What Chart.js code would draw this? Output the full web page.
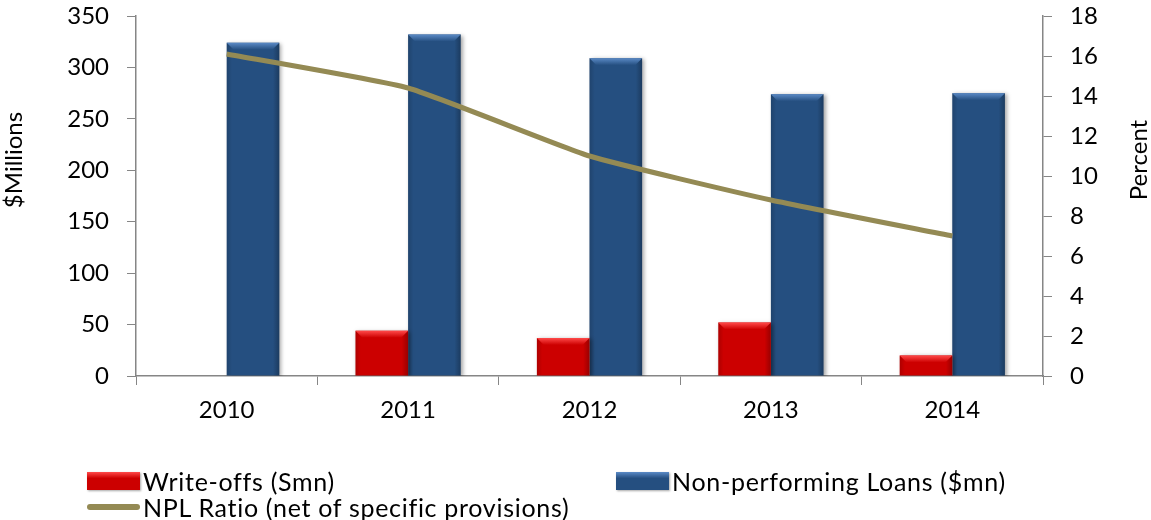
<!DOCTYPE html>
<html>
<head>
<meta charset="utf-8">
<script src="https://cdn.jsdelivr.net/npm/chart.js@4.4.0/dist/chart.umd.min.js"></script>
<style>
  html, body { margin: 0; padding: 0; background: #fff; }
  #wrap { position: relative; width: 1151px; height: 520px; overflow: hidden; }
  #chart { position: absolute; left: 0; top: 0; }
  #legend { position: absolute; left: 87px; top: 0; font-family: Lato, sans-serif; font-size: 25px; letter-spacing: 0.7px; color: #000; }
  .item { position: absolute; height: 26px; white-space: nowrap; display: flex; align-items: center; }
  .swatch { width: 53px; height: 18px; flex: none; }
  .line-swatch { width: 53px; height: 6px; border-radius: 3px; flex: none; }
  .label { display: inline-block; margin-left: 3px; }
</style>
</head>
<body>
<div id="wrap">
  <canvas id="chart" width="1151" height="520"></canvas>
  <div id="legend"></div>
</div>
<script>
// Data
const years = ['2010', '2011', '2012', '2013', '2014'];
const writeOffs = [0, 44, 37, 52, 20];
const nplLoans = [324, 332, 309, 274, 275];
const nplRatio = [16.1, 14.4, 11.0, 8.8, 7.0];

const leftTicks = { min: 0, max: 350, step: 50 };
const rightTicks = { min: 0, max: 18, step: 2 };

const FONT = 'Lato, sans-serif';
const AXIS_GREY = '#868686';

// Shadow under bars + bevelled top edge and darker sides
const bevelPlugin = {
    id: 'bevel',
    beforeDatasetDraw(chart, args) {
        if (args.meta.type !== 'bar') return;
        const ctx = chart.ctx;
        ctx.save();
        ctx.shadowColor = 'rgba(0,0,0,0.35)';
        ctx.shadowBlur = 4;
        ctx.shadowOffsetX = 2;
        ctx.shadowOffsetY = 1;
    },
    afterDatasetDraw(chart, args) {
        if (args.meta.type !== 'bar') return;
        const ctx = chart.ctx;
        ctx.restore();
        const ds = chart.data.datasets[args.index];
        args.meta.data.forEach(bar => {
            const { x, y, base, width } = bar.getProps(['x', 'y', 'base', 'width'], true);
            const h = base - y;
            if (h < 1) return;
            const l = x - width / 2, r = x + width / 2;

            const g = ctx.createLinearGradient(l, 0, r, 0);
            g.addColorStop(0, 'rgba(0,0,0,0.15)');
            g.addColorStop(0.1, 'rgba(0,0,0,0)');
            g.addColorStop(0.88, 'rgba(0,0,0,0)');
            g.addColorStop(1, 'rgba(0,0,0,0.25)');
            ctx.fillStyle = g;
            ctx.fillRect(l, y, width, h);

            const d = Math.min(7, h / 2);
            ctx.beginPath();
            ctx.moveTo(l, y);
            ctx.lineTo(r, y);
            ctx.lineTo(r - d, y + d);
            ctx.lineTo(l + d, y + d);
            ctx.closePath();
            const tg = ctx.createLinearGradient(0, y, 0, y + d);
            tg.addColorStop(0, ds.bevelColor);
            tg.addColorStop(1, ds.backgroundColor);
            ctx.fillStyle = tg;
            ctx.fill();
        });
    }
};

// Axis titles, both reading bottom-to-top
const axisTitles = {
    id: 'axisTitles',
    afterDraw(chart) {
        const ctx = chart.ctx;
        const { top, bottom } = chart.chartArea;
        const cy = top + (bottom - top) * 0.4;
        ctx.save();
        ctx.font = '24px ' + FONT;
        ctx.fillStyle = '#000';
        ctx.textAlign = 'center';
        ctx.textBaseline = 'middle';

        ctx.save();
        ctx.translate(chart.scales.y.left + 14, cy);
        ctx.rotate(-Math.PI / 2);
        ctx.fillText('$Millions', 0, 0);
        ctx.restore();

        ctx.save();
        ctx.translate(chart.scales.y1.right - 12, cy);
        ctx.rotate(-Math.PI / 2);
        ctx.fillText('Percent', 0, 0);
        ctx.restore();

        ctx.restore();
    }
};

// fixed sizes for the value axes so the plot area sits where it should
function fitValueAxis(width) {
    return scale => {
        scale.width = width;
        scale.paddingTop = 16;
        scale.paddingBottom = 0;
    };
}

const ctxChart = document.getElementById('chart').getContext('2d');

const chart = new Chart(ctxChart, {
    data: {
        labels: years,
        datasets: [
            {
                type: 'bar',
                label: 'Write-offs (Smn)',
                data: writeOffs,
                backgroundColor: '#CC0000',
                bevelColor: '#FF4A4A',
                yAxisID: 'y',
                order: 1,
                categoryPercentage: 0.58,
                barPercentage: 1.0
            },
            {
                type: 'bar',
                label: 'Non-performing Loans ($mn)',
                data: nplLoans,
                backgroundColor: '#254F80',
                bevelColor: '#5B8AC6',
                yAxisID: 'y',
                order: 1,
                categoryPercentage: 0.58,
                barPercentage: 1.0
            },
            {
                type: 'line',
                label: 'NPL Ratio (net of specific provisions)',
                data: nplRatio,
                borderColor: '#948A54',
                backgroundColor: '#948A54',
                borderWidth: 5,
                pointRadius: 0,
                tension: 0.15,
                fill: false,
                yAxisID: 'y1',
                order: 0
            }
        ]
    },
    options: {
        responsive: false,
        animation: false,
        layout: { padding: 0 },
        plugins: {
            legend: { display: false },
            tooltip: { enabled: false }
        },
        scales: {
            x: {
                offset: true,
                grid: { offset: true, drawOnChartArea: false, color: AXIS_GREY, tickLength: 9 },
                border: { color: AXIS_GREY, width: 1.5 },
                ticks: { color: '#000', font: { family: FONT, size: 24 }, padding: 11 },
                afterFit: scale => {
                    scale.height = 144;
                    scale.paddingLeft = 0;
                    scale.paddingRight = 0;
                }
            },
            y: {
                position: 'left',
                min: leftTicks.min,
                max: leftTicks.max,
                grid: { drawOnChartArea: false, color: AXIS_GREY, tickLength: 9 },
                border: { color: AXIS_GREY, width: 1.5 },
                ticks: { stepSize: leftTicks.step, color: '#000', font: { family: FONT, size: 24 }, padding: 18 },
                afterFit: fitValueAxis(136)
            },
            y1: {
                position: 'right',
                min: rightTicks.min,
                max: rightTicks.max,
                grid: { drawOnChartArea: false, color: AXIS_GREY, tickLength: 9 },
                border: { color: AXIS_GREY, width: 1.5 },
                ticks: { stepSize: rightTicks.step, color: '#000', font: { family: FONT, size: 24 }, padding: 18 },
                afterFit: fitValueAxis(108)
            }
        }
    },
    plugins: [bevelPlugin, axisTitles]
});

// HTML legend built from the chart datasets
const legendSlots = [
    { left: 0, top: 468 },
    { left: 529, top: 468 },
    { left: 0, top: 494 }
];
const legendDiv = document.getElementById('legend');
chart.data.datasets.forEach((ds, i) => {
    const item = document.createElement('div');
    item.className = 'item';
    item.style.left = legendSlots[i].left + 'px';
    item.style.top = legendSlots[i].top + 'px';

    const sw = document.createElement('span');
    if (ds.type === 'line') {
        sw.className = 'line-swatch';
        sw.style.background = ds.borderColor;
    } else {
        sw.className = 'swatch';
        sw.style.background = `linear-gradient(to bottom, ${ds.bevelColor} 0%, ${ds.backgroundColor} 35%, ${ds.backgroundColor} 100%)`;
        sw.style.boxShadow = '1px 1px 2px rgba(0,0,0,0.35)';
    }
    item.appendChild(sw);

    const txt = document.createElement('span');
    txt.className = 'label';
    txt.textContent = ds.label;
    item.appendChild(txt);

    legendDiv.appendChild(item);
});
</script>
</body>
</html>
